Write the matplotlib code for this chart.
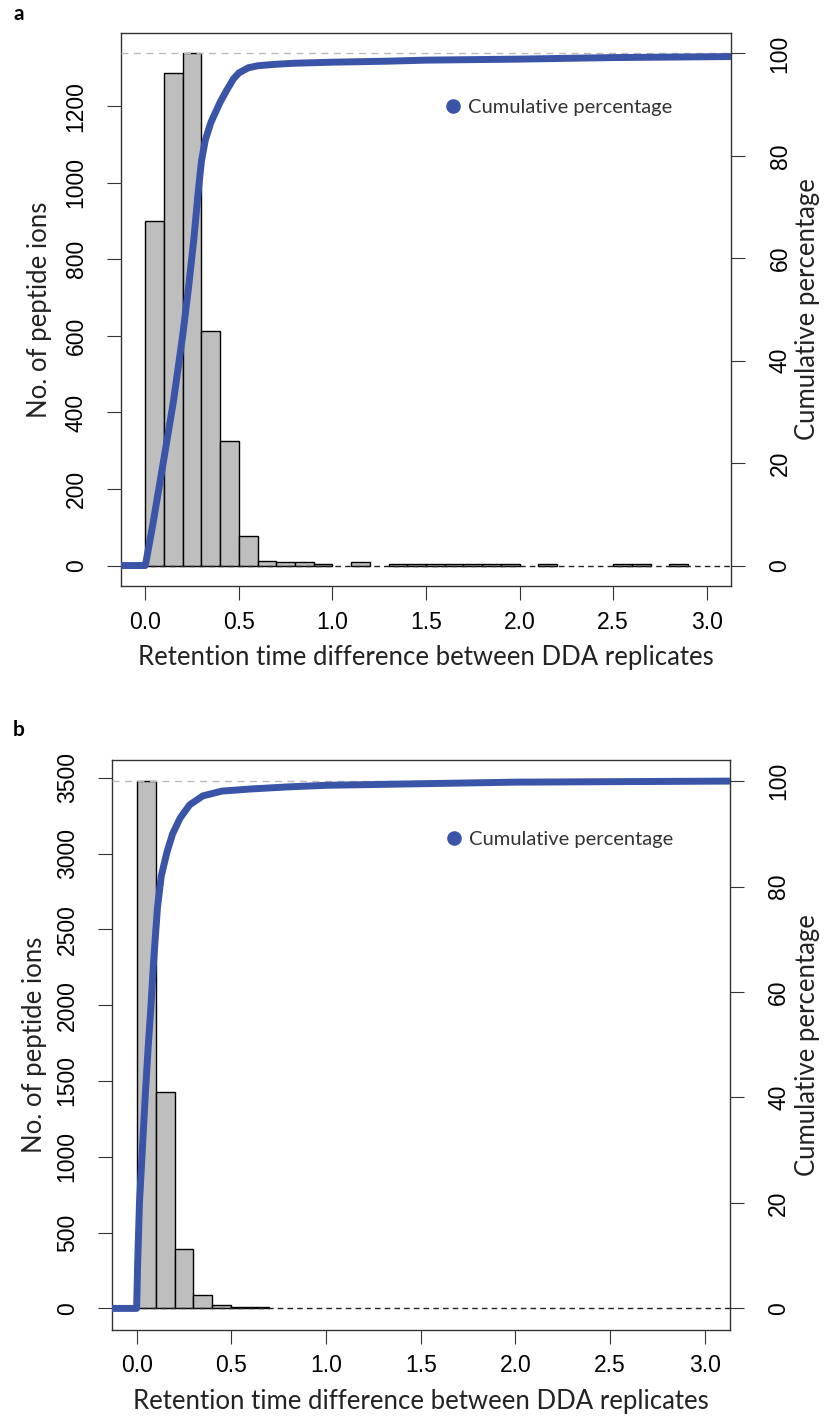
import numpy as np
import matplotlib
matplotlib.use("Agg")
import matplotlib.pyplot as plt
from matplotlib.lines import Line2D

# Histogram data (bin width 0.1, starting at 0.0)
bin_width = 0.1
counts_a = [900, 1288, 1338, 614, 325, 76, 12, 8, 8, 4, 0, 9, 0,
            3, 3, 3, 3, 3, 3, 3, 0, 3, 0, 0, 0, 3, 3, 0, 3, 0, 0]
counts_b = [3478, 1428, 395, 90, 20, 8, 6]

# Cumulative percentage curves (x, percent)
cum_x_a = [-0.13, 0.0, 0.04, 0.10, 0.15, 0.20, 0.23, 0.26, 0.28, 0.30, 0.32, 0.35,
           0.40, 0.43, 0.47, 0.50, 0.55, 0.60, 0.70, 0.80, 1.00, 1.30, 1.50, 2.00, 2.50, 3.13]
cum_y_a = [0, 0, 8, 21, 32, 45, 54, 64, 72, 79, 83, 86.5,
           90.5, 92.5, 95, 96.2, 97.2, 97.6, 97.9, 98.1, 98.3, 98.5, 98.7, 98.9, 99.2, 99.4]

cum_x_b = [-0.13, 0.0, 0.005, 0.015, 0.03, 0.045, 0.06, 0.075, 0.09, 0.11, 0.13, 0.16,
           0.19, 0.23, 0.28, 0.35, 0.45, 0.60, 0.80, 1.00, 1.50, 2.00, 3.13]
cum_y_b = [0, 0, 8, 20, 30, 40, 49, 57, 66, 76, 82, 86.5,
           90, 93, 95.5, 97.2, 98.1, 98.5, 98.9, 99.2, 99.5, 99.8, 100]

x_ticks = [0.0, 0.5, 1.0, 1.5, 2.0, 2.5, 3.0]
y_ticks_a = [0, 200, 400, 600, 800, 1000, 1200]
y_ticks_b = [0, 500, 1000, 1500, 2000, 2500, 3000, 3500]
pct_ticks = [0, 20, 40, 60, 80, 100]

x_title = "Retention time difference between DDA replicates"
y_title = "No. of peptide ions"
pct_title = "Cumulative percentage"

BLUE = "#3A54A7"
GREY = "#BEBEBE"
BOX = "#333333"
TICK_FONT = ["Liberation Sans", "DejaVu Sans"]
TEXT_FONT = ["Lato", "DejaVu Sans"]


def draw_panel(fig, rect, counts, cum_x, cum_y, y_ticks, letter, letter_y,
               ylab_x, y2lab_x, xlab_y, legend_xy):
    counts = np.array(counts, dtype=float)
    edges = np.arange(len(counts)) * bin_width
    top = counts.max()

    ax = fig.add_axes(rect)
    mask = counts > 0
    ax.bar(edges[mask], counts[mask], width=bin_width, align="edge",
           color=GREY, edgecolor="black", linewidth=1.0, zorder=2)
    ax.axhline(0, color="#222222", linestyle=(0, (4, 3)), linewidth=1.0, zorder=3)
    ax.axhline(top, color="#BBBBBB", linestyle=(0, (5, 4)), linewidth=1.0, zorder=3)

    ax.set_xlim(-0.13, 3.13)
    ax.set_ylim(-0.04 * top, 1.04 * top)
    ax.set_xticks(x_ticks)
    ax.set_xticklabels(["%.1f" % t for t in x_ticks])
    ax.set_yticks(y_ticks)
    ax.set_yticklabels([str(t) for t in y_ticks], rotation=90, va="center")
    ax.tick_params(direction="out", length=10, width=0.8, color=BOX,
                   labelsize=16.5)
    ax.tick_params(axis="x", pad=8)
    ax.tick_params(axis="y", pad=14)
    for lab in ax.get_xticklabels() + ax.get_yticklabels():
        lab.set_family(TICK_FONT)
    for sp in ax.spines.values():
        sp.set_color(BOX)
        sp.set_linewidth(1.0)

    # right axis in percent
    ax2 = ax.twinx()
    ax2.set_ylim(-4, 104)
    ax2.plot(cum_x, cum_y, color=BLUE, linewidth=5, solid_joinstyle="round",
             zorder=4)
    ax2.set_yticks(pct_ticks)
    ax2.set_yticklabels([str(t) for t in pct_ticks], rotation=90, va="center")
    ax2.tick_params(direction="out", length=10, width=0.8, color=BOX,
                    labelsize=16.5, pad=17)
    for lab in ax2.get_yticklabels():
        lab.set_family(TICK_FONT)
    for sp in ax2.spines.values():
        sp.set_visible(False)

    ax.set_xlabel(x_title, fontsize=18.5, family=TEXT_FONT, color="#222222")
    ax.xaxis.set_label_coords(0.5, xlab_y)
    ax.xaxis.label.set_va("center")
    ax.set_ylabel(y_title, fontsize=18.5, family=TEXT_FONT, color="#222222")
    ax.yaxis.set_label_coords(ylab_x, 0.5)
    ax.yaxis.label.set_va("center")
    ax2.set_ylabel(pct_title, fontsize=18.5, family=TEXT_FONT, color="#222222",
                   rotation=90)
    ax2.yaxis.set_label_coords(y2lab_x, 0.5)
    ax2.yaxis.label.set_va("center")

    handle = Line2D([], [], marker="o", linestyle="", color=BLUE, markersize=9.5)
    leg = ax2.legend([handle], [pct_title], loc="center left",
                     bbox_to_anchor=legend_xy, frameon=False, borderpad=0,
                     handlelength=0.8, handletextpad=0.35,
                     prop={"family": TEXT_FONT, "size": 14.5})
    for t in leg.get_texts():
        t.set_color("#333333")

    fig.text(0.022, letter_y, letter, fontsize=15, fontweight="bold",
             family=TEXT_FONT, va="center", ha="center")
    return ax


def main():
    fig = plt.figure(figsize=(8.3, 14.22), dpi=100)

    draw_panel(fig, [121 / 830, 1 - 586 / 1422, 610 / 830, 553 / 1422],
               counts_a, cum_x_a, cum_y_a, y_ticks_a, "a", 1 - 14 / 1422,
               -0.133, 1.126, -0.130, (0.515, 0.866))
    draw_panel(fig, [112 / 830, 1 - 1329.5 / 1422, 617.5 / 830, 569.5 / 1422],
               counts_b, cum_x_b, cum_y_b, y_ticks_b, "b", 1 - 730 / 1422,
               -0.125, 1.127, -0.127, (0.525, 0.86))

    fig.savefig("out.png", dpi=100)
    return


if __name__ == "__main__":

    main()
